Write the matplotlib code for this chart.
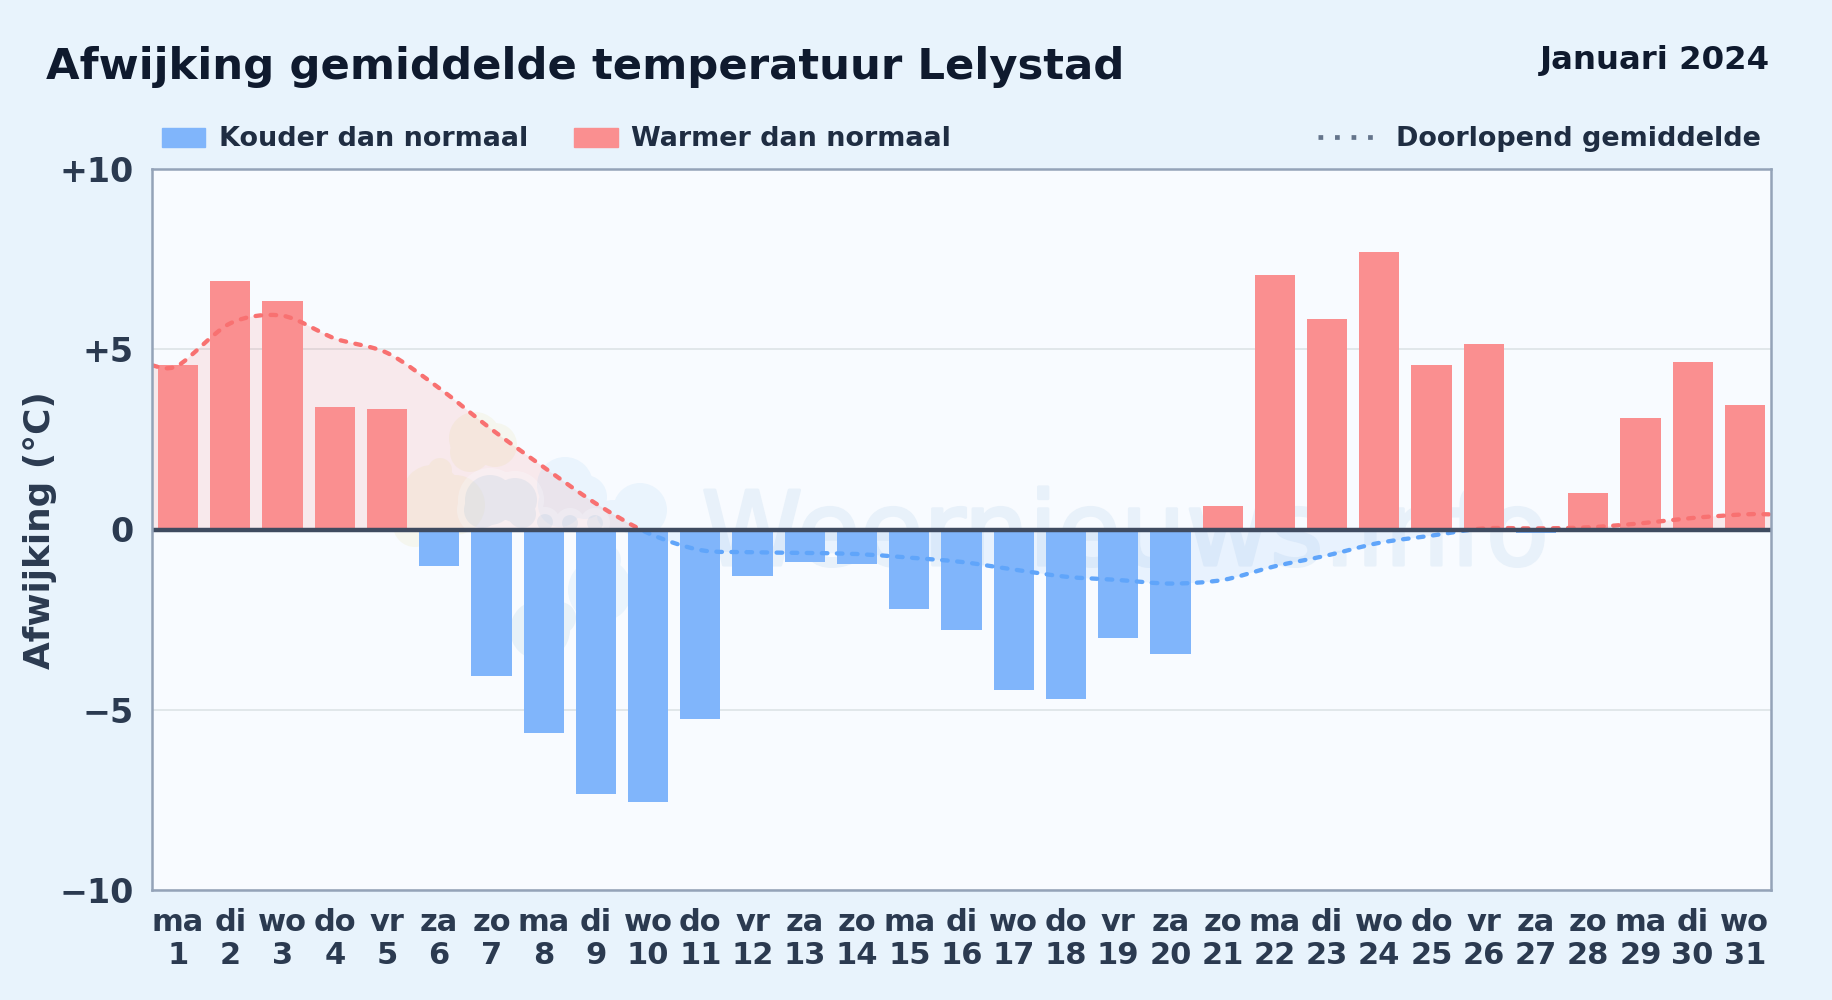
import matplotlib
matplotlib.use("Agg")
import matplotlib.pyplot as plt
import matplotlib.patheffects as pe
from matplotlib.path import Path
from matplotlib.patches import PathPatch, Rectangle, Patch
from matplotlib.lines import Line2D
from matplotlib.transforms import Affine2D

plt.rcParams['font.family'] = ['DejaVu Sans']
plt.rcParams['font.weight'] = 'bold'

weekdays = ["ma","di","wo","do","vr","za","zo","ma","di","wo","do","vr","za","zo","ma","di",
            "wo","do","vr","za","zo","ma","di","wo","do","vr","za","zo","ma","di","wo"]
days = list(range(1, 32))
deviation = [4.55,6.9,6.35,3.4,3.35,-1.0,-4.05,-5.65,-7.35,-7.55,-5.25,-1.3,-0.9,-0.95,-2.2,-2.8,
             -4.45,-4.7,-3.0,-3.45,0.65,7.05,5.85,7.7,4.55,5.15,-0.1,1.0,3.1,4.65,3.45]
running_mean = [4.55,5.72,5.93,5.3,4.9,3.92,2.78,1.73,0.72,-0.1,-0.57,-0.63,-0.65,-0.68,-0.78,-0.9,
                -1.11,-1.31,-1.4,-1.5,-1.4,-1.02,-0.72,-0.37,-0.17,0.03,0.03,0.06,0.17,0.32,0.42]
ytick_values = [-10,-5,0,5,10]
ytick_labels = ["\u221210","\u22125","0","+5","+10"]

W, H = 1832, 1000
BG, PANEL = "#e8f3fc", "#f8fbff"
RED, BLUE = "#fa8f90", "#80b5fb"
LRED, LBLUE = "#f87171", "#60a5fa"
INK, INK2 = "#0f1a2e", "#1f2d42"

fig = plt.figure(figsize=(W/100, H/100), dpi=100, facecolor=BG)
L, R, T, B = 152, 1771, 169, 890
ax = fig.add_axes([L/W, 1-B/H, (R-L)/W, (B-T)/H], facecolor=PANEL)
ax.set_xlim(0.5, 31.5)
ax.set_ylim(-10, 10)

ax.yaxis.grid(True, color="#e1e7ea", lw=1.4, zorder=1)
ax.set_axisbelow(True)
colors = [RED if v >= 0 else BLUE for v in deviation]
ax.bar(days, deviation, width=0.77, color=colors, zorder=3)

# smooth running-mean curve through the points
px = [0.5] + days + [31.5]
py = [running_mean[0]] + running_mean + [running_mean[-1]]
verts, codes = [(px[0], py[0])], [Path.MOVETO]
k = 0.15
for i in range(len(px)-1):
    p0 = max(i-1, 0); p3 = min(i+2, len(px)-1)
    c1 = (px[i] + (px[i+1]-px[p0])*k, py[i] + (py[i+1]-py[p0])*k)
    c2 = (px[i+1] - (px[p3]-px[i])*k, py[i+1] - (py[p3]-py[i])*k)
    verts += [c1, c2, (px[i+1], py[i+1])]
    codes += [Path.CURVE4]*3
curve = Path(verts, codes)
area = Path(verts + [(31.5, 0), (0.5, 0), (0.5, py[0])],
            codes + [Path.LINETO, Path.LINETO, Path.LINETO])

up = Rectangle((0.5, 0), 31, 10, transform=ax.transData)
down = Rectangle((0.5, -10), 31, 10, transform=ax.transData)
for col, clip, a in ((LRED, up, 0.13), (LBLUE, down, 0.10)):
    f = PathPatch(area, facecolor=col, edgecolor="none", alpha=a, zorder=2)
    ax.add_patch(f); f.set_clip_path(clip)
    l = PathPatch(curve, fill=False, edgecolor=col, lw=3.1, zorder=5,
                  linestyle=(0, (1.3, 2.2)), capstyle="round", joinstyle="round")
    ax.add_patch(l); l.set_clip_path(clip)

ax.axhline(0, color="#3f4b60", lw=3.2, zorder=6)

# faint watermark: logo blobs and site name
px2fig = Affine2D().scale(1/W, -1/H).translate(0, 1) + fig.transFigure
def blob(circles, color, alpha):
    ps = [Path.circle((x, y), r) for x, y, r in circles]
    p = PathPatch(Path.make_compound_path(*ps), facecolor=color, edgecolor="none",
                  alpha=alpha, transform=px2fig, zorder=2.5)
    ax.add_patch(p)
    p.set_clip_path(Rectangle((0.5, -10), 31, 20, transform=ax.transData))
sun = [(475,438,26),(495,445,22),(470,452,20),(432,495,30),(415,525,22),(455,505,30),(440,470,12)]
cloud_top = [(565,485,28),(585,497,22),(640,510,27),(612,515,15),(560,505,22)]
cloud_low = [(600,590,32),(605,560,16)]
drop = [(540,630,30),(560,618,16)]
core = [(490,500,25),(515,500,22),(482,510,18),(522,514,14),(545,522,8),(570,523,8),(595,523,8)]
halo = [(x, y, r+7) for x, y, r in core]
blob(sun, "#d8c850", 0.09)
blob(cloud_top + cloud_low, "#7cc0f0", 0.11)
blob(halo, PANEL, 0.3)
blob(core + drop, "#64a0c8", 0.11)
wm_color = "#e8f1fa"
wm = ax.text(1125/W, 1-565/H, "Weernieuws.info", ha="center", va="baseline", fontsize=74,
             color=wm_color, zorder=1.5, fontweight="normal", transform=fig.transFigure)
wm.set_path_effects([pe.Stroke(linewidth=2.2, foreground=wm_color)])

for s in ax.spines.values():
    s.set_color("#94a3b8"); s.set_linewidth(1.8); s.set_zorder(7)

ax.set_xticks(days)
ax.set_xticklabels([f"{w}\n{d}" for w, d in zip(weekdays, days)], fontsize=22,
                   color="#2b3a50", linespacing=1.15)
ax.set_yticks(ytick_values)
ax.set_yticklabels(ytick_labels, fontsize=24, color="#2b3a50")
ax.tick_params(axis="both", length=0)
ax.tick_params(axis="x", pad=13)
ax.tick_params(axis="y", pad=13)
fig.text(40/W, 1-530/H, "Afwijking (\u00b0C)", rotation=90, ha="center", va="center",
         fontsize=25.8, color="#2b3a50")

fig.text(46/W, 1-67.5/H, "Afwijking gemiddelde temperatuur Lelystad", ha="left", va="center",
         fontsize=31.2, color=INK)
fig.text(1770/W, 1-61/H, "Januari 2024", ha="right", va="center", fontsize=23.3, color=INK)

lg1 = fig.legend(handles=[Patch(color=BLUE, label="Kouder dan normaal"),
                          Patch(color=RED, label="Warmer dan normaal")],
                 loc="center left", bbox_to_anchor=(162/W, 1-139.5/H), ncols=2, frameon=False,
                 fontsize=19.45, labelcolor=INK2, handlelength=1.6, handleheight=0.7,
                 handletextpad=0.5, columnspacing=1.72, borderaxespad=0, borderpad=0)
lg2 = fig.legend(handles=[Line2D([], [], color="#64748b", lw=3.4, linestyle=(0, (1, 2.5)),
                                 label="Doorlopend gemiddelde")],
                 loc="center right", bbox_to_anchor=(1760.5/W, 1-139.5/H), frameon=False,
                 fontsize=19.45, labelcolor=INK2, handlelength=2.1, handletextpad=0.78,
                 borderaxespad=0, borderpad=0)

fig.savefig("out.png", dpi=100, facecolor=BG)
